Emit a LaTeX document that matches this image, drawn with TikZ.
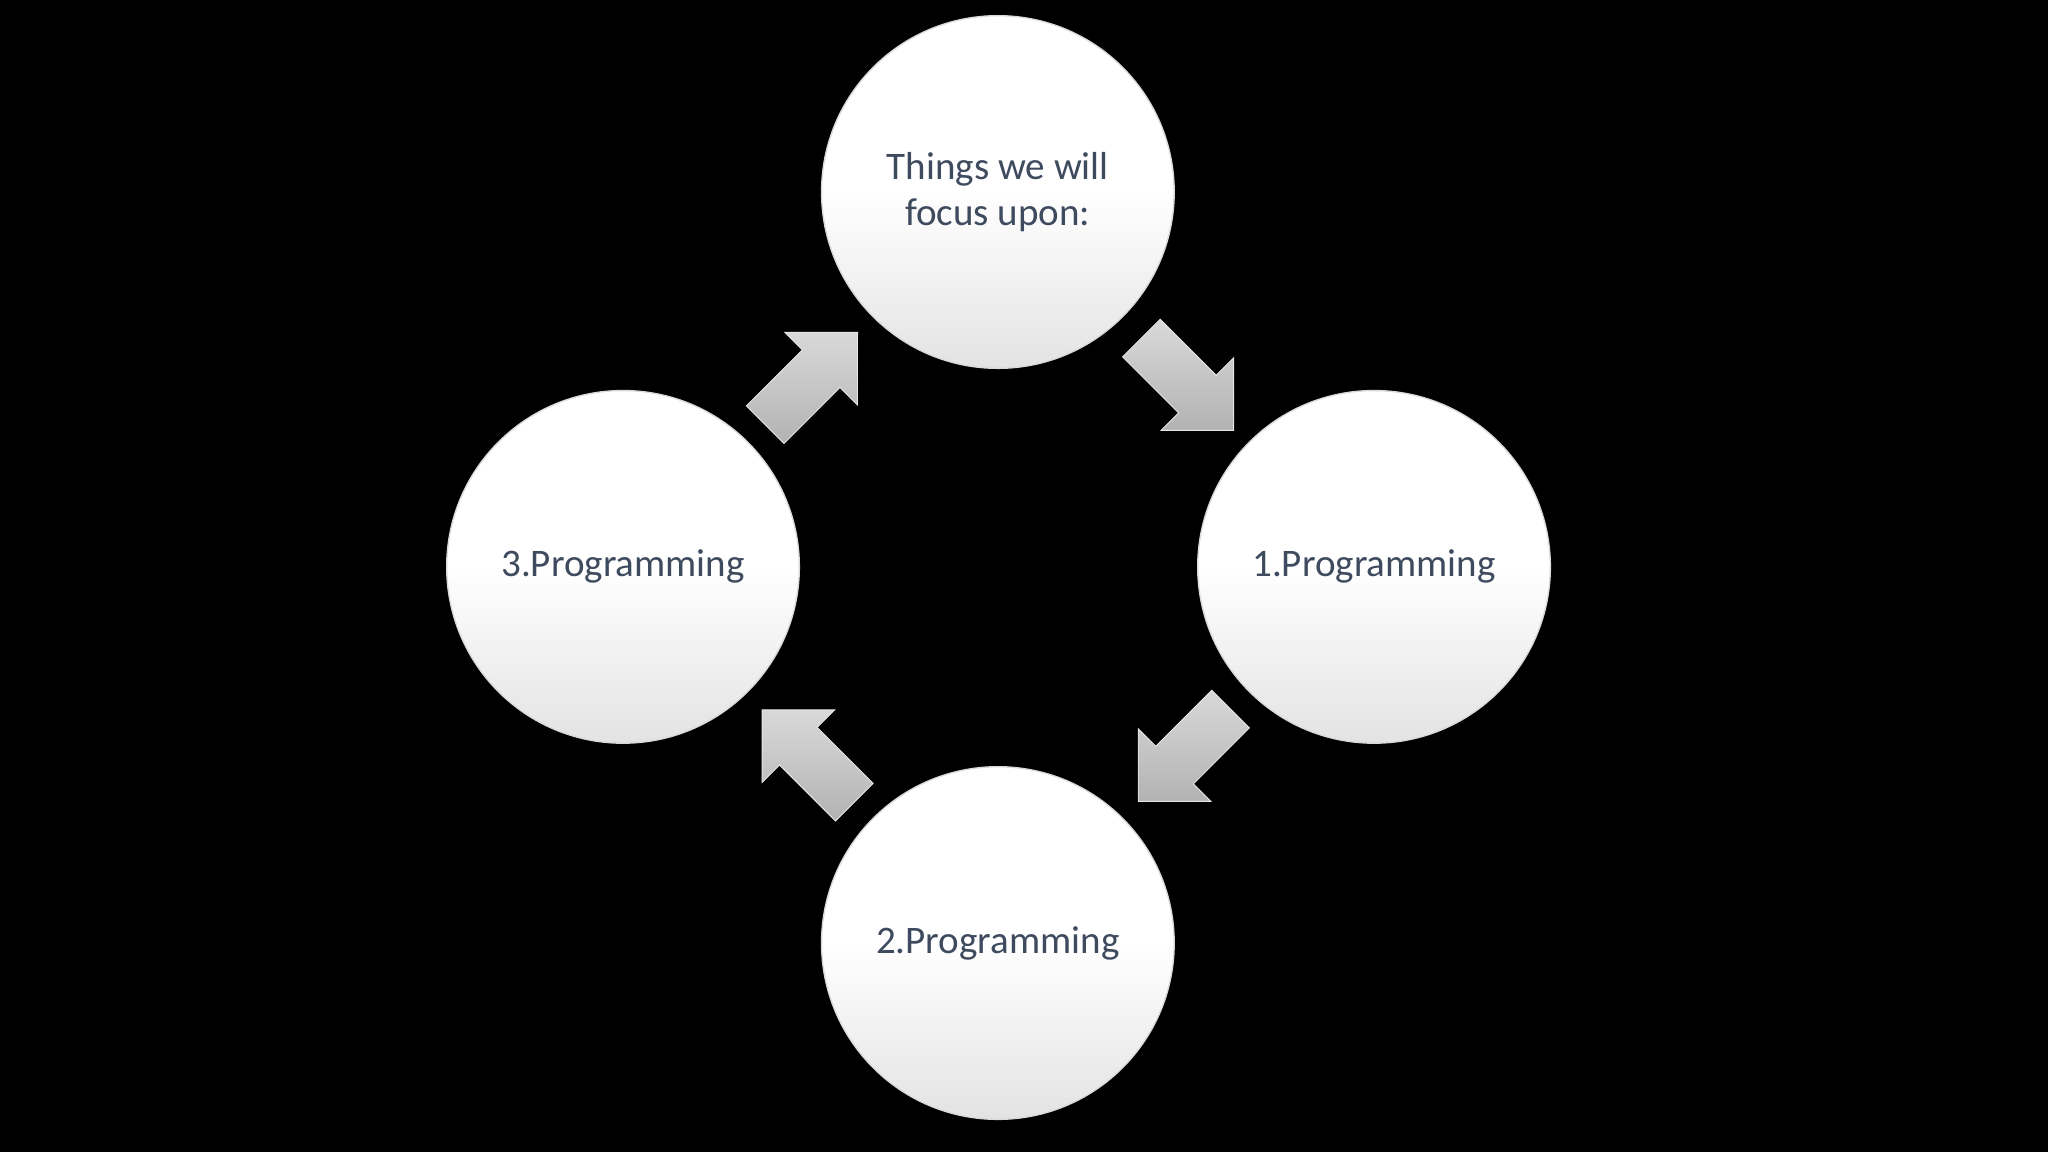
\documentclass[tikz,border=0pt]{standalone}
\usepackage{fontspec}
\setmainfont{Carlito}
\usetikzlibrary{shapes.arrows}
\definecolor{txt}{HTML}{3E4A5E}
\tikzset{
 circ/.style={circle,minimum size=27mm,inner sep=0pt,top color=white,bottom color=gray!22,middle color=white,draw=gray!30,line width=0.3pt,text=txt,font=\fontsize{8.5}{10}\selectfont,align=center},
 blk/.style={single arrow,minimum height=10mm,minimum width=7.8mm,single arrow head extend=1.9mm,inner sep=0pt,top color=gray!30,bottom color=gray!60,draw=gray!20,line width=0.2pt}
}
\begin{document}
\begin{tikzpicture}[x=0.1mm,y=-0.1mm]
\fill[black] (0,0) rectangle (1568,882);
\useasboundingbox (0,0) rectangle (1568,882);
\node[circ] (top) at (764,147) {Things we will\\focus upon:};
\node[circ] (right) at (1052,434) {1.Programming};
\node[circ] (bottom) at (764,722) {2.Programming};
\node[circ] (left) at (477,434) {3.Programming};
\node[blk,rotate=-45] (a1) at (902,287) {\rule{0pt}{4mm}};
\node[blk,rotate=-135] (a2) at (914,571) {\rule{0pt}{4mm}};
\node[blk,rotate=135] (a3) at (626,586) {\rule{0pt}{4mm}};
\node[blk,rotate=45] (a4) at (614,297) {\rule{0pt}{4mm}};
\end{tikzpicture}
\end{document}
